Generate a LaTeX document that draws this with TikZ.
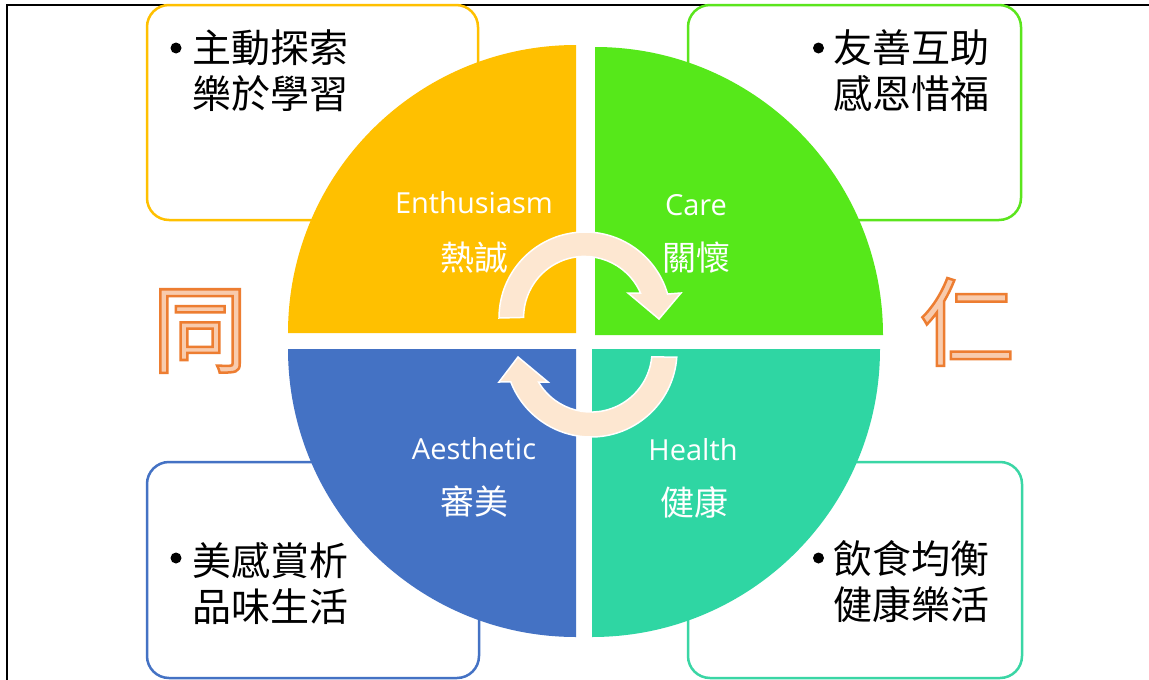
\documentclass[tikz,border=0pt]{standalone}
\usepackage{fontspec}
\setmainfont{Open Sans}
\newfontfamily\cjk{Noto Sans CJK TC}
\definecolor{cY}{HTML}{FFC000}
\definecolor{cG}{HTML}{56E81A}
\definecolor{cB}{HTML}{4472C4}
\definecolor{cT}{HTML}{2FD6A3}
\definecolor{cGb}{HTML}{5BE51D}
\definecolor{cTb}{HTML}{3AD6A5}
\definecolor{arrowfill}{HTML}{FDE7D1}
\definecolor{bigfill}{HTML}{F8CBAD}
\newcommand{\outlinedtext}[1]{\special{pdf:literal direct 2 Tr 2.5 w 0.929 0.490 0.192 RG}#1\special{pdf:literal direct 0 Tr}}
\begin{document}
\begin{tikzpicture}[x=1pt,y=-1pt,
  box/.style={draw, line width=2.5pt, rounded corners=22pt, inner sep=0pt},
  boxtext/.style={anchor=west, align=left, inner sep=0pt, font=\cjk\fontsize{39}{46}\selectfont},
  bullet/.style={circle, fill=black, inner sep=0pt, minimum size=11pt},
  entext/.style={anchor=base, text=white, inner sep=0pt, font=\fontsize{29}{34}\selectfont},
  zhtext/.style={text=white, inner sep=0pt, font=\cjk\fontsize{34}{40}\selectfont},
  circarrow/.style={fill=arrowfill, draw=white, line width=1.5pt, line join=miter},
  bigchar/.style={inner sep=0pt, text=bigfill, font=\cjk\fontsize{96}{100}\selectfont}
]
\useasboundingbox (0,0) rectangle (1149,680);
\fill[white] (0,0) rectangle (1149,680);
% frame
\draw[line width=2.5pt] (7,681) -- (7,5) -- (1150,5);

% boxes
\node[box, draw=cY,  minimum width=331pt, minimum height=215pt] (boxE) at (312.5,112.5) {};
\node[box, draw=cGb, minimum width=333pt, minimum height=215pt] (boxC) at (854.5,112.5) {};
\node[box, draw=cB,  minimum width=332pt, minimum height=216pt] (boxA) at (313,570) {};
\node[box, draw=cTb, minimum width=334pt, minimum height=216pt] (boxH) at (855,570) {};

% box texts
\node[bullet] (bE) at (176,48) {};
\node[boxtext] (tE) at (192,71) {主動探索\\樂於學習};
\node[bullet] (bC) at (818.5,48) {};
\node[boxtext] (tC) at (833,71) {友善互助\\感恩惜福};
\node[bullet] (bA) at (176,558) {};
\node[boxtext] (tA) at (192,583) {美感賞析\\品味生活};
\node[bullet] (bH) at (818.5,558) {};
\node[boxtext] (tH) at (833,582) {飲食均衡\\健康樂活};

% quadrants
\fill[cY] (576,333) -- ++(-288,0) arc[start angle=180, end angle=270, radius=288] -- cycle;
\fill[cG] (595,335) -- ++(0,-288) arc[start angle=270, end angle=360, radius=288] -- cycle;
\fill[cB] (576,349) -- ++(0,288) arc[start angle=90, end angle=180, radius=288] -- cycle;
\fill[cT] (592,349) -- ++(288,0) arc[start angle=0, end angle=90, radius=288] -- cycle;

% circular arrows
\filldraw[circarrow] (499,318) arc[start angle=180, end angle=343.8, radius=86]
  -- (681,293) -- (659,319) -- (628,293) -- (640.5,293)
  arc[start angle=336.4, end angle=180, radius=61] -- cycle;
\filldraw[circarrow] (676.8,357) arc[start angle=4, end angle=158.9, radius=86]
  -- (499,382) -- (518,357) -- (548,382) -- (538.5,382)
  arc[start angle=149.5, end angle=5.6, radius=61] -- cycle;

% labels
\node[entext] (lE) at (474,213) {Enthusiasm};
\node[zhtext] (zE) at (474,258) {熱誠};
\node[entext] (lC) at (696,215) {Care};
\node[zhtext] (zC) at (696,258) {關懷};
\node[entext] (lA) at (474,459) {Aesthetic};
\node[zhtext] (zA) at (474,502) {審美};
\node[entext] (lH) at (693,460) {Health};
\node[zhtext] (zH) at (694,502) {健康};

% big outlined characters
\node[bigchar] (tong) at (200,331) {\outlinedtext{同}};
\node[bigchar] (ren) at (967,322) {\outlinedtext{仁}};
\end{tikzpicture}
\end{document}
